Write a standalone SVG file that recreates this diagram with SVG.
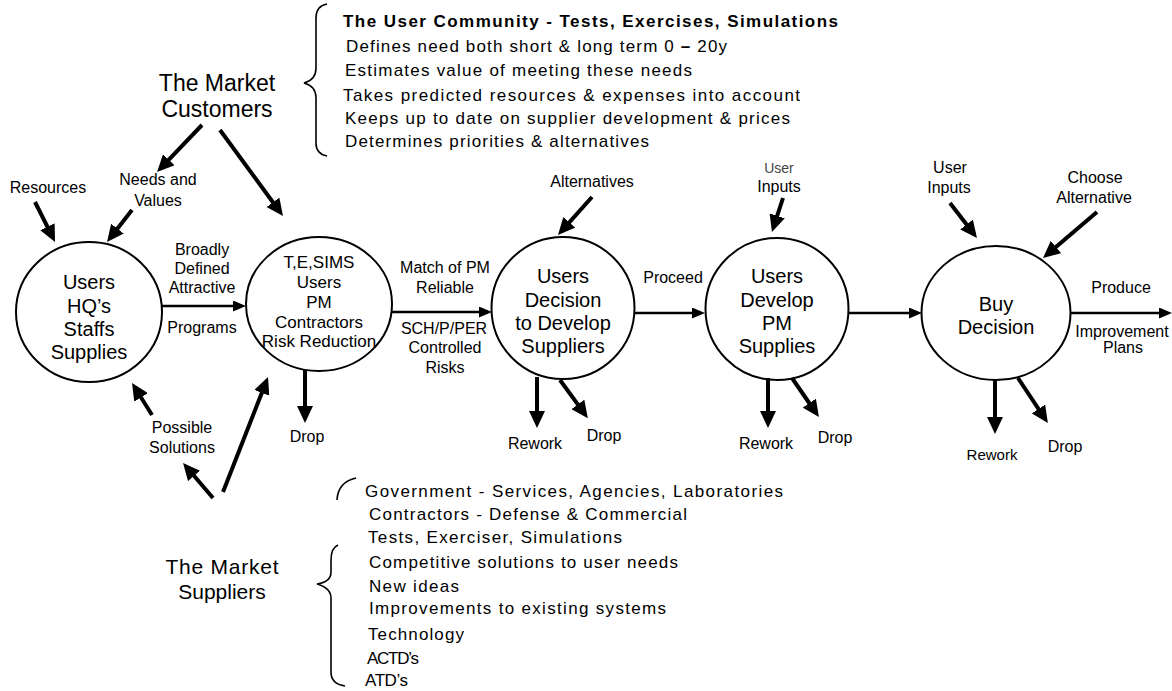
<svg xmlns="http://www.w3.org/2000/svg" width="1172" height="691" viewBox="0 0 1172 691">
<defs>
<style>
text{font-family:"Liberation Sans",Arial,Helvetica,sans-serif;fill:#000}
.node{fill:none;stroke:#000;stroke-width:2}
.c20{font-size:20px;text-anchor:middle}
.c17{font-size:17px;text-anchor:middle}
.lb{font-size:16px;text-anchor:middle}
.big{font-size:23px;text-anchor:middle}
.list{font-size:17px}
.thick{stroke:#000;stroke-width:4;fill:none;marker-end:url(#hk)}
.thin{stroke:#000;stroke-width:2.5;fill:none;marker-end:url(#hn)}
.brace{fill:none;stroke:#000;stroke-width:1.6}
</style>
<marker id="hk" markerUnits="userSpaceOnUse" markerWidth="17" markerHeight="16" refX="12" refY="8" orient="auto"><path d="M0,0 L17,8 L0,16 z" fill="#000"/></marker>
<marker id="hn" markerUnits="userSpaceOnUse" markerWidth="13" markerHeight="11" refX="9" refY="5.5" orient="auto"><path d="M0,0 L13,5.5 L0,11 z" fill="#000"/></marker>
</defs>
<rect width="1172" height="691" fill="#fff"/>

<g id="user-community">
<path class="brace" d="M327,4 Q316,6 316,18 L316,68 Q316,80 304,83 Q316,86 316,98 L316,143 Q316,154 327,156"/>
<text x="343" y="27" class="list" font-weight="bold" textLength="495" lengthAdjust="spacing">The User Community  - Tests, Exercises, Simulations</text>
<text x="346" y="52" class="list" textLength="381" lengthAdjust="spacing">Defines need both short &amp; long term 0  <tspan font-weight="bold">–</tspan> 20y</text>
<text x="345" y="76" class="list" textLength="347" lengthAdjust="spacing">Estimates value of meeting these needs</text>
<text x="343" y="101" class="list" textLength="457" lengthAdjust="spacing">Takes predicted resources  &amp; expenses into account</text>
<text x="345" y="124" class="list" textLength="445" lengthAdjust="spacing">Keeps up to date on supplier development  &amp; prices</text>
<text x="345" y="147" class="list" textLength="304" lengthAdjust="spacing">Determines priorities &amp; alternatives</text>
</g>

<g id="market-customers">
<text x="217" y="91" class="big">The Market</text>
<text x="217" y="117" class="big">Customers</text>
</g>

<g id="market-suppliers">
<text x="222" y="574" class="big" style="font-size:21px" textLength="113" lengthAdjust="spacing">The Market</text>
<text x="222" y="599" class="big" style="font-size:21px">Suppliers</text>
<path class="brace" d="M356,478 Q338,482 337,500"/>
<path class="brace" d="M338,545 Q331,548 331,560 L331,572 Q331,582 317,584 Q331,588 331,598 L331,672 Q331,684 345,686"/>
<text x="365" y="497" class="list" textLength="418" lengthAdjust="spacing">Government -  Services, Agencies, Laboratories</text>
<text x="369" y="520" class="list" textLength="318" lengthAdjust="spacing">Contractors -  Defense &amp; Commercial</text>
<text x="368" y="543" class="list" textLength="254" lengthAdjust="spacing">Tests, Exerciser, Simulations</text>
<text x="369" y="568" class="list" textLength="309" lengthAdjust="spacing">Competitive solutions to user needs</text>
<text x="369" y="592" class="list" textLength="90" lengthAdjust="spacing">New ideas</text>
<text x="369" y="614" class="list" textLength="297" lengthAdjust="spacing">Improvements to existing systems</text>
<text x="368" y="640" class="list" textLength="96" lengthAdjust="spacing">Technology</text>
<text x="367" y="664" class="list" textLength="52" lengthAdjust="spacing">ACTD’s</text>
<text x="365" y="686" class="list" textLength="43" lengthAdjust="spacing">ATD’s</text>
</g>

<g id="node-users-hq">
<ellipse class="node" cx="89" cy="312" rx="73" ry="70"/>
<text class="c20" x="89" y="289">Users</text>
<text class="c20" x="89" y="313">HQ’s</text>
<text class="c20" x="89" y="336">Staffs</text>
<text class="c20" x="89" y="359">Supplies</text>
</g>

<g id="node-tesims">
<ellipse class="node" cx="319" cy="304" rx="73" ry="67"/>
<text class="c17" x="319" y="268">T,E,SIMS</text>
<text class="c17" x="319" y="288">Users</text>
<text class="c17" x="319" y="308">PM</text>
<text class="c17" x="319" y="328">Contractors</text>
<text class="c17" x="319" y="347">Risk Reduction</text>
</g>

<g id="node-decision-develop">
<ellipse class="node" cx="563" cy="308" rx="71.5" ry="71"/>
<text class="c20" x="563" y="283">Users</text>
<text class="c20" x="563" y="307">Decision</text>
<text class="c20" x="563" y="330">to Develop</text>
<text class="c20" x="563" y="353">Suppliers</text>
</g>

<g id="node-develop-pm">
<ellipse class="node" cx="777" cy="309" rx="71.5" ry="71"/>
<text class="c20" x="777" y="283">Users</text>
<text class="c20" x="777" y="307">Develop</text>
<text class="c20" x="777" y="330">PM</text>
<text class="c20" x="777" y="353">Supplies</text>
</g>

<g id="node-buy-decision">
<ellipse class="node" cx="996" cy="313" rx="74.5" ry="67"/>
<text class="c20" x="996" y="311">Buy</text>
<text class="c20" x="996" y="334">Decision</text>
</g>

<g id="connectors">
<line class="thick" x1="202" y1="125" x2="160.5" y2="168.4"/>
<line class="thick" x1="220" y1="130" x2="280" y2="212"/>
<line class="thick" x1="35" y1="202" x2="52.8" y2="237.5"/>
<line class="thick" x1="132" y1="210" x2="110.1" y2="238.1"/>
<line class="thick" x1="152" y1="415" x2="134.7" y2="387.2"/>
<line class="thick" x1="213" y1="498" x2="186.3" y2="466.8"/>
<line class="thick" x1="223" y1="492" x2="266.2" y2="381.7"/>
<line class="thick" x1="305" y1="370" x2="305" y2="418"/>
<line class="thick" x1="592" y1="197" x2="561.3" y2="231.3"/>
<line class="thick" x1="537" y1="377" x2="537" y2="423"/>
<line class="thick" x1="560" y1="380" x2="584.9" y2="414.1"/>
<line class="thick" x1="783" y1="198" x2="773.5" y2="227.2"/>
<line class="thick" x1="768" y1="378" x2="768" y2="423"/>
<line class="thick" x1="792" y1="378" x2="816.1" y2="413"/>
<line class="thick" x1="950" y1="203" x2="973.9" y2="234"/>
<line class="thick" x1="1097" y1="212" x2="1046.8" y2="254.8"/>
<line class="thick" x1="995" y1="380" x2="995" y2="429"/>
<line class="thick" x1="1018" y1="378" x2="1045.1" y2="418.9"/>
<line class="thin" x1="162" y1="306" x2="242" y2="306"/>
<line class="thin" x1="392" y1="312" x2="488" y2="312"/>
<line class="thin" x1="635" y1="313" x2="701" y2="313"/>
<line class="thin" x1="848" y1="313" x2="918" y2="313"/>
<line class="thin" x1="1071" y1="313" x2="1168" y2="313"/>
</g>

<g id="labels">
<text class="lb" x="48" y="193">Resources</text>
<text class="lb" x="158" y="185">Needs and</text>
<text class="lb" x="158" y="206">Values</text>
<text class="lb" x="202" y="255">Broadly</text>
<text class="lb" x="202" y="274">Defined</text>
<text class="lb" x="202" y="293">Attractive</text>
<text class="lb" x="202" y="333">Programs</text>
<text class="lb" x="182" y="433">Possible</text>
<text class="lb" x="182" y="453">Solutions</text>
<text class="lb" x="307" y="442">Drop</text>
<text class="lb" x="445" y="273">Match of PM</text>
<text class="lb" x="445" y="293">Reliable</text>
<text class="lb" x="444" y="334">SCH/P/PER</text>
<text class="lb" x="445" y="353">Controlled</text>
<text class="lb" x="445" y="373">Risks</text>
<text class="lb" x="592" y="187">Alternatives</text>
<text class="lb" x="535" y="449">Rework</text>
<text class="lb" x="604" y="441">Drop</text>
<text class="lb" x="673" y="283">Proceed</text>
<text class="lb" x="779" y="173" style="font-size:14px;fill:#444">User</text>
<text class="lb" x="779" y="192">Inputs</text>
<text class="lb" x="766" y="449">Rework</text>
<text class="lb" x="835" y="443">Drop</text>
<text class="lb" x="950" y="173">User</text>
<text class="lb" x="949" y="193">Inputs</text>
<text class="lb" x="1095" y="183">Choose</text>
<text class="lb" x="1094" y="203">Alternative</text>
<text class="lb" x="1121" y="293">Produce</text>
<text class="lb" x="1122" y="337">Improvement</text>
<text class="lb" x="1123" y="353">Plans</text>
<text class="lb" x="992" y="460" style="font-size:15px">Rework</text>
<text class="lb" x="1065" y="452">Drop</text>
</g>
</svg>
